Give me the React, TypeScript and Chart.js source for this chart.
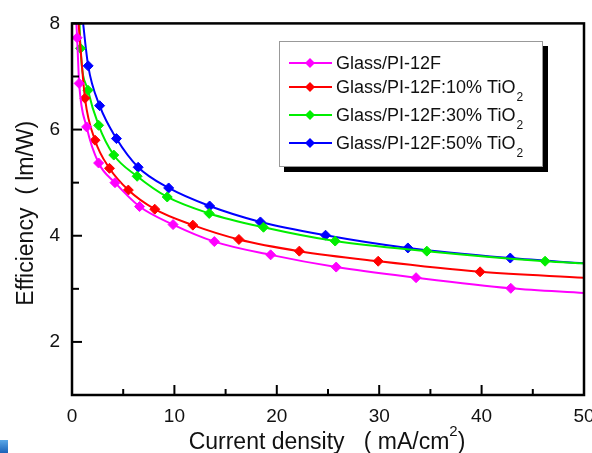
import React, { useEffect, useRef } from "react";
import { Chart, registerables } from "chart.js";

Chart.register(...registerables);

const FONT = '"Liberation Sans", Arial, sans-serif';

// ---- data ----
const seriesNames = [
  "Glass/PI-12F",
  "Glass/PI-12F:10% TiO\u2082",
  "Glass/PI-12F:30% TiO\u2082",
  "Glass/PI-12F:50% TiO\u2082",
];
const seriesColors = ["#ff00ff", "#ff0000", "#00ee00", "#0000ff"];

// first and last entries are curve ends (no marker)
const pi12fX = [0.4, 0.5, 0.7, 1.43, 2.6, 4.2, 6.6, 9.87, 13.9, 19.4, 25.8, 33.6, 42.85, 50];
const pi12fY = [8.1, 7.73, 6.87, 6.05, 5.37, 5.0, 4.55, 4.21, 3.89, 3.64, 3.41, 3.21, 3.01, 2.92];

const tio10X = [0.6, 1.27, 2.25, 3.66, 5.5, 8.08, 11.8, 16.3, 22.2, 29.9, 39.85, 50];
const tio10Y = [8.1, 6.59, 5.8, 5.27, 4.86, 4.5, 4.2, 3.93, 3.71, 3.52, 3.32, 3.21];

const tio30X = [0.72, 0.83, 1.56, 2.6, 4.08, 6.36, 9.3, 13.4, 18.7, 25.7, 34.65, 46.2, 50];
const tio30Y = [8.1, 7.53, 6.74, 6.08, 5.52, 5.12, 4.73, 4.42, 4.16, 3.9, 3.71, 3.52, 3.48];

const tio50X = [1.0, 1.58, 2.7, 4.34, 6.46, 9.44, 13.44, 18.4, 24.76, 32.8, 42.8, 50];
const tio50Y = [8.15, 7.2, 6.45, 5.83, 5.29, 4.9, 4.56, 4.26, 4.01, 3.77, 3.58, 3.48];

const xMajorTicks = [0, 10, 20, 30, 40, 50];
const xMinorTicks = [5, 15, 25, 35, 45];
const yMajorTicks = [2, 4, 6, 8];
const yMinorTicks = [3, 5, 7];

const xTitle = "Current density   ( mA/cm";
const xTitleSup = "2";
const xTitleEnd = ")";
const yTitle = "Efficiency  ( lm/W)";

const seriesX = [pi12fX, tio10X, tio30X, tio50X];
const seriesY = [pi12fY, tio10Y, tio30Y, tio50Y];

function drawDiamond(ctx: CanvasRenderingContext2D, cx: number, cy: number, r: number, color: string) {
  ctx.beginPath();
  ctx.moveTo(cx, cy - r);
  ctx.lineTo(cx + r, cy);
  ctx.lineTo(cx, cy + r);
  ctx.lineTo(cx - r, cy);
  ctx.closePath();
  ctx.fillStyle = color;
  ctx.fill();
}

const decorPlugin = {
  id: "decor",
  afterDraw(chart: any) {
    const { ctx, chartArea: a, scales } = chart;
    const xs = scales.x;
    const ys = scales.y;
    ctx.save();

    // frame
    ctx.strokeStyle = "#000";
    ctx.lineWidth = 2.5;
    ctx.strokeRect(a.left, a.top, a.right - a.left, a.bottom - a.top);

    // inward ticks
    ctx.lineWidth = 2;
    const seg = (x1: number, y1: number, x2: number, y2: number) => {
      ctx.beginPath();
      ctx.moveTo(x1, y1);
      ctx.lineTo(x2, y2);
      ctx.stroke();
    };
    xMajorTicks.forEach((v) => {
      const p = xs.getPixelForValue(v);
      seg(p, a.bottom, p, a.bottom - 10);
    });
    xMinorTicks.forEach((v) => {
      const p = xs.getPixelForValue(v);
      seg(p, a.bottom, p, a.bottom - 6);
    });
    yMajorTicks.forEach((v) => {
      const p = ys.getPixelForValue(v);
      seg(a.left, p, a.left + 10, p);
    });
    yMinorTicks.forEach((v) => {
      const p = ys.getPixelForValue(v);
      seg(a.left, p, a.left + 7, p);
    });

    // x title
    ctx.fillStyle = "#111";
    ctx.textBaseline = "alphabetic";
    ctx.textAlign = "left";
    const big = `23px ${FONT}`;
    const small = `15px ${FONT}`;
    ctx.font = big;
    const w1 = ctx.measureText(xTitle).width;
    const w3 = ctx.measureText(xTitleEnd).width;
    ctx.font = small;
    const w2 = ctx.measureText(xTitleSup).width;
    const total = w1 + w2 + w3;
    const cx = (a.left + a.right) / 2 - 1;
    let tx = cx - total / 2;
    const baseY = a.bottom + 54;
    ctx.font = big;
    ctx.fillText(xTitle, tx, baseY);
    tx += w1;
    ctx.font = small;
    ctx.fillText(xTitleSup, tx, baseY - 13);
    tx += w2;
    ctx.font = big;
    ctx.fillText(xTitleEnd, tx, baseY);

    // y title
    ctx.save();
    ctx.translate(33, (a.top + a.bottom) / 2 + 4);
    ctx.rotate(-Math.PI / 2);
    ctx.textAlign = "center";
    ctx.font = big;
    ctx.fillText(yTitle, 0, 0);
    ctx.restore();

    // legend box
    const lx = 279, ly = 41, lw = 264, lh = 126;
    ctx.fillStyle = "#000";
    ctx.fillRect(lx + lw, ly + 5, 5, lh);
    ctx.fillRect(lx + 5, ly + lh, lw, 5);
    ctx.fillStyle = "#fff";
    ctx.fillRect(lx, ly, lw, lh);
    ctx.strokeStyle = "#999";
    ctx.lineWidth = 1;
    ctx.strokeRect(lx + 0.5, ly + 0.5, lw - 1, lh - 1);

    const rowOffsets = [22, 46, 74, 102];
    chart.data.datasets.forEach((ds: any, i: number) => {
      const ry = ly + rowOffsets[i];
      const col = ds.borderColor;
      ctx.strokeStyle = col;
      ctx.lineWidth = 2;
      seg(lx + 10, ry, lx + 53, ry);
      drawDiamond(ctx, lx + 31, ry, 5, col);
      const label: string = ds.label;
      const hasSub = label.endsWith("\u2082");
      const main = hasSub ? label.slice(0, -1) : label;
      ctx.fillStyle = "#111";
      ctx.textAlign = "left";
      ctx.textBaseline = "middle";
      ctx.font = `18px ${FONT}`;
      ctx.fillText(main, lx + 57, ry + 1);
      if (hasSub) {
        const mw = ctx.measureText(main).width;
        ctx.font = `12px ${FONT}`;
        ctx.fillText("2", lx + 57 + mw + 1, ry + 11);
      }
    });

    // little blue corner artifact
    const g = ctx.createLinearGradient(0, 440, 0, 453);
    g.addColorStop(0, "#5aa8e8");
    g.addColorStop(1, "#1a62b8");
    ctx.fillStyle = g;
    ctx.fillRect(0, 440, 8, 13);

    ctx.restore();
  },
};

export default function App() {
  const ref = useRef<HTMLCanvasElement>(null);

  useEffect(() => {
    const datasets = seriesNames.map((name, i) => {
      const xsArr = seriesX[i];
      const ysArr = seriesY[i];
      const n = xsArr.length;
      return {
        label: name,
        data: xsArr.map((x, j) => ({ x, y: ysArr[j] })),
        borderColor: seriesColors[i],
        backgroundColor: seriesColors[i],
        borderWidth: 2,
        pointStyle: "rectRot",
        pointRadius: (c: any) => (c.dataIndex === 0 || c.dataIndex === n - 1 ? 0 : 5),
        pointBorderWidth: 1,
        cubicInterpolationMode: "monotone",
        fill: false,
        clip: 0,
      };
    });

    const chart = new Chart(ref.current!, {
      type: "line",
      data: { datasets } as any,
      options: {
        responsive: false,
        devicePixelRatio: 1,
        animation: false,
        layout: { padding: { top: 18, right: 36, left: 0, bottom: 0 } },
        plugins: { legend: { display: false }, tooltip: { enabled: false } },
        scales: {
          x: {
            type: "linear",
            min: 0,
            max: 50,
            grid: { display: false, drawTicks: false },
            border: { display: false },
            ticks: {
              font: { family: FONT, size: 19 },
              color: "#111",
              padding: 10,
              maxRotation: 0,
              autoSkip: false,
            },
            afterBuildTicks: (s: any) => {
              s.ticks = xMajorTicks.map((v) => ({ value: v }));
            },
            afterFit: (s: any) => {
              s.height = 58;
            },
          },
          y: {
            type: "linear",
            min: 1,
            max: 8,
            grid: { display: false, drawTicks: false },
            border: { display: false },
            ticks: {
              font: { family: FONT, size: 19 },
              color: "#111",
              padding: 12,
              autoSkip: false,
            },
            afterBuildTicks: (s: any) => {
              s.ticks = yMajorTicks.map((v) => ({ value: v }));
            },
            afterFit: (s: any) => {
              s.width = 72;
            },
          },
        },
      } as any,
      plugins: [decorPlugin],
    });
    return () => chart.destroy();
  }, []);

  return (
    <div
      style={{
        position: "fixed",
        left: 0,
        top: 0,
        width: 592,
        height: 453,
        overflow: "hidden",
        background: "#fff",
      }}
    >
      <canvas ref={ref} width={620} height={453} style={{ display: "block", width: 620, height: 453 }} />
    </div>
  );
}
